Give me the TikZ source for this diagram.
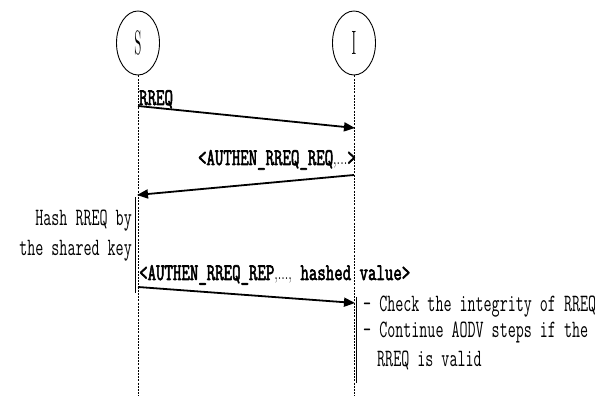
\documentclass[tikz,border=0pt]{standalone}
\usepackage{graphicx}
\usepackage{fontspec}
\newfontfamily\monoreg{Latin Modern Mono}
\newfontfamily\monobold{Latin Modern Mono}[FakeBold=3]
\usetikzlibrary{arrows.meta,shapes.geometric}
% tall, narrow lettering used throughout the chart
\newcommand\tall[2]{\scalebox{1}[#1]{#2}}
\newcommand\notetext[1]{\tall{1.6}{\monoreg\fontsize{15.6}{15.6}\selectfont #1}}
\newcommand\msgtext[1]{\tall{1.45}{\monobold\fontsize{16.4}{16.4}\selectfont #1}}
\newcommand\thin[1]{{\rmfamily\fontsize{13}{13}\selectfont #1}}
\begin{document}
\begin{tikzpicture}[x=1pt,y=1pt,
  party/.style={draw,ellipse,line width=0.9pt,minimum width=43pt,minimum height=64pt,inner sep=0pt},
  lifeline/.style={line width=0.7pt,dash pattern=on 2pt off 1.2pt},
  msg/.style={line width=1.8pt,-{Triangle[length=11pt,width=9pt]}},
  lbl/.style={inner sep=0pt},
  bar/.style={line width=1.1pt}]
\useasboundingbox (0,0) rectangle (595,396);
% participants
\node[party] (S) at (138,353) {\tall{2.6}{\rmfamily\fontsize{13}{13}\selectfont S}};
\node[party] (I) at (354,353) {\tall{2.6}{\rmfamily\fontsize{13}{13}\selectfont I}};
\coordinate (Send) at (138,0);
\coordinate (Iend) at (354,0);
\draw[lifeline] (S.south) -- (Send);
\draw[lifeline] (I.south) -- (Iend);
% message end points on the lifelines
\coordinate (m1s) at (138,290);
\coordinate (m1e) at (355,268);
\coordinate (m2s) at (354,221);
\coordinate (m2e) at (137,201);
\coordinate (m3s) at (138,109);
\coordinate (m3e) at (355,93);
% messages
\draw[msg] (m1s) -- (m1e);
\node[lbl,anchor=base west] (l1) at (139,291) {\msgtext{RREQ}};
\draw[msg] (m2s) -- (m2e);
\node[lbl,anchor=base east] (l2) at (356,231) {\msgtext{<AUTHEN\_RREQ\_REQ\thin{,...}>}};
\draw[msg] (m3s) -- (m3e);
\node[lbl,anchor=base west] (l3) at (139,116) {\msgtext{<AUTHEN\_RREQ\_REP\thin{,...,} hashed value>}};
% processing on S
\coordinate (bs1) at (135.5,199);
\coordinate (bs2) at (135.5,103);
\draw[bar] (bs1) -- (bs2);
\node[lbl,anchor=base east] (h1) at (132,170) {\notetext{Hash RREQ by}};
\node[lbl,anchor=base east] (h2) at (132,140) {\notetext{the shared key}};
% processing on I
\coordinate (bi1) at (356.5,99);
\coordinate (bi2) at (356.5,13);
\draw[bar] (bi1) -- (bi2);
\node[lbl,anchor=base west] (c1) at (363,84) {\notetext{- Check the integrity of RREQ}};
\node[lbl,anchor=base west] (c2) at (363,58) {\notetext{- Continue AODV steps if the}};
\node[lbl,anchor=base west] (c3) at (377,29) {\notetext{RREQ is valid}};
\end{tikzpicture}
\end{document}
